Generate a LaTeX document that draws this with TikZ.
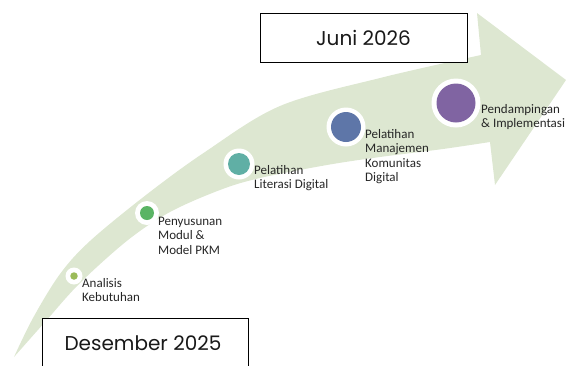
\documentclass[tikz,border=0pt]{standalone}
\usepackage{fontspec}
\setmainfont{Carlito}
\newfontfamily\datefont{Poppins}
\definecolor{bandcol}{RGB}{221,231,209}
\definecolor{cA}{RGB}{155,187,89}
\definecolor{cB}{RGB}{90,180,100}
\definecolor{cC}{RGB}{96,175,165}
\definecolor{cD}{RGB}{94,118,168}
\definecolor{cE}{RGB}{128,100,162}
\definecolor{txt}{RGB}{38,38,38}
\newcommand\mylines[1]{\begin{tabular}[t]{@{}l@{}}#1\end{tabular}}
\tikzset{
  lbl/.style={anchor=base west, inner sep=0pt, text=txt, font=\fontsize{13}{14.5}\selectfont},
  ring/.style={circle, fill=white, inner sep=0pt},
  dot/.style={circle, inner sep=0pt},
  datebox/.style={draw=black, line width=0.9pt, fill=white, inner sep=0pt},
  datetext/.style={inner sep=0pt, text=black!90, font=\datefont\fontsize{20}{24}\selectfont}
}
\begin{document}
\begin{tikzpicture}[x=1pt,y=-1pt]
\useasboundingbox (0,0) rectangle (566,365);
% curved arrow band
\fill[bandcol] plot[smooth, tension=0.55] coordinates {(14,357) (33,318) (60,274) (90,241) (146,195) (205,152) (280,106) (380,78) (481,55)}
  -- (477,13) -- (566,80) -- (495,185) -- (490,142)
  -- plot[smooth, tension=0.55] coordinates {(490,142) (443,149) (380,157) (327,165) (260,178) (220,190) (170,212) (128,240) (80,283) (45,322) (14,357)} -- cycle;
% milestones
\node[ring, minimum size=17pt] (rA) at (74,276) {};
\node[dot, fill=cA, minimum size=7.5pt] (dA) at (rA) {};
\node[ring, minimum size=24pt] (rB) at (147,213) {};
\node[dot, fill=cB, minimum size=14pt] (dB) at (rB) {};
\node[ring, minimum size=31pt] (rC) at (239,164) {};
\node[dot, fill=cC, minimum size=22pt] (dC) at (rC) {};
\node[ring, minimum size=39pt] (rD) at (346,127) {};
\node[dot, fill=cD, minimum size=30pt] (dD) at (rD) {};
\node[ring, minimum size=49pt] (rE) at (456,103) {};
\node[dot, fill=cE, minimum size=39pt] (dE) at (rE) {};
% labels
\node[lbl] (lA) at (82,287) {\mylines{Analisis\\Kebutuhan}};
\node[lbl] (lB) at (158,225) {\mylines{Penyusunan\\Modul \&\\Model PKM}};
\node[lbl] (lC) at (254,174) {\mylines{Pelatihan\\Literasi Digital}};
\node[lbl] (lD) at (365,138) {\mylines{Pelatihan\\Manajemen\\Komunitas\\Digital}};
\node[lbl] (lE) at (481,113) {\mylines{Pendampingan\\\& Implementasi}};
% date boxes
\draw[datebox] (260,13) rectangle (467,62);
\node[datetext] (juni) at (363.5,37.5) {Juni 2026};
\draw[datebox] (42,318) rectangle (248,367);
\node[datetext] (des) at (143,343) {Desember 2025};
\end{tikzpicture}
\end{document}
